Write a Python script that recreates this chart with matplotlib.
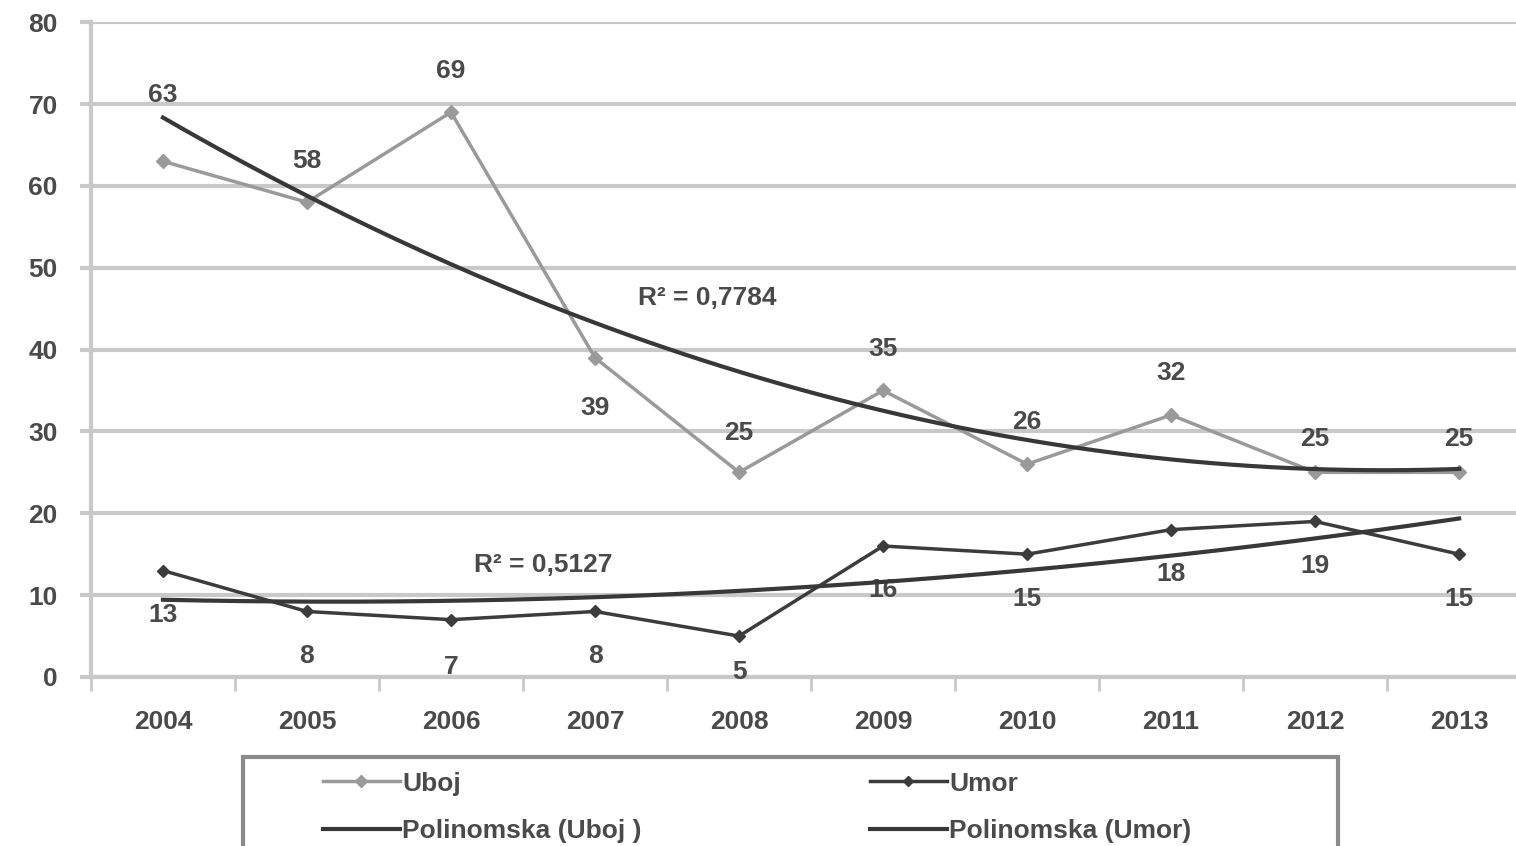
import numpy as np
import matplotlib
matplotlib.use('Agg')
import matplotlib.pyplot as plt
from matplotlib.lines import Line2D
from matplotlib.patches import Rectangle

# data
years = ['2004', '2005', '2006', '2007', '2008', '2009', '2010', '2011', '2012', '2013']
uboj = [63, 58, 69, 39, 25, 35, 26, 32, 25, 25]
umor = [13, 8, 7, 8, 5, 16, 15, 18, 19, 15]
r2_uboj = 'R² = 0,7784'
r2_umor = 'R² = 0,5127'

# label offsets in points (positive = above)
uboj_off = [48, 30, 30, -36, 28, 30, 30, 30, 24, 24]
umor_off = [-32, -32, -34, -32, -26, -32, -32, -32, -32, -32]

plt.rcParams['font.family'] = ['Liberation Sans', 'DejaVu Sans']
plt.rcParams['font.weight'] = 'bold'

txt = '#4a4a4a'
grid_c = '#c9c9c9'
light = '#9a9a9a'
dark = '#3c3c3c'
trend_c = '#383838'

fig = plt.figure(figsize=(15.16, 8.46), dpi=100)
ax = fig.add_axes([0.060, 0.1998, 0.950, 0.774])

x = np.arange(len(years))

# polynomial (2nd order) trendlines as in the spreadsheet
xs = np.linspace(0, len(years) - 1, 200)
p_uboj = np.polyval(np.polyfit(x, uboj, 2), xs)
p_umor = np.polyval(np.polyfit(x, umor, 2), xs)

ax.plot(x, uboj, color=light, lw=2.5, marker='D', ms=7, zorder=3)
ax.plot(x, umor, color=dark, lw=2.5, marker='D', ms=6, zorder=3)
ax.plot(xs, p_uboj, color=trend_c, lw=3, zorder=4)
ax.plot(xs, p_umor, color=trend_c, lw=3, zorder=4)

for i, v in enumerate(uboj):
    ax.annotate(str(v), (x[i], v), xytext=(0, uboj_off[i]), textcoords='offset points',
                ha='center', va='center', fontsize=19, color=txt)
for i, v in enumerate(umor):
    ax.annotate(str(v), (x[i], v), xytext=(0, umor_off[i]), textcoords='offset points',
                ha='center', va='center', fontsize=19, color=txt)

ax.text(3.78, 46.3, r2_uboj, ha='center', va='center', fontsize=19, color=txt)
ax.text(2.64, 13.7, r2_umor, ha='center', va='center', fontsize=19, color=txt)

ax.set_xlim(-0.5, len(years) - 0.5)
ax.set_ylim(0, 80)
ax.set_yticks(range(0, 81, 10))
ax.set_xticks(x)
ax.set_xticklabels(years)
ax.set_xticks(np.arange(-0.5, len(years)), minor=True)

ax.grid(axis='y', color=grid_c, lw=3, zorder=0)
ax.set_axisbelow(True)
for s in ['top', 'right']:
    ax.spines[s].set_visible(False)
for s in ['left', 'bottom']:
    ax.spines[s].set_color(grid_c)
    ax.spines[s].set_linewidth(3)

ax.tick_params(axis='y', length=8, width=3, color=grid_c, pad=16, labelsize=19, labelcolor=txt)
ax.tick_params(axis='x', which='major', length=0, pad=24, labelsize=19, labelcolor=txt)
ax.tick_params(axis='x', which='minor', length=10, width=2, color=grid_c)

# legend frame, runs off the bottom like the reference
fig.patches.append(Rectangle((243 / 1516, -0.05), (1338 - 243) / 1516, 0.05 + 89 / 846,
                             transform=fig.transFigure, fill=False, edgecolor='#8a8a8a', lw=3))

col1 = [Line2D([], [], color=light, lw=2.5, marker='D', ms=6), Line2D([], [], color=trend_c, lw=3)]
col2 = [Line2D([], [], color=dark, lw=2.5, marker='D', ms=5), Line2D([], [], color=trend_c, lw=3)]
lab1 = ['Uboj', 'Polinomska (Uboj )']
lab2 = ['Umor', 'Polinomska (Umor)']
for hs, ls, x0 in [(col1, lab1, 323), (col2, lab2, 870)]:
    leg = fig.legend(hs, ls, loc='upper left', bbox_to_anchor=(x0 / 1516, 0.088),
                     bbox_transform=fig.transFigure, frameon=False, fontsize=19,
                     handlelength=2.9, handletextpad=0.1, borderpad=0, borderaxespad=0,
                     labelspacing=0.9)
    for t in leg.get_texts():
        t.set_color(txt)

fig.savefig('out.png', dpi=100)
